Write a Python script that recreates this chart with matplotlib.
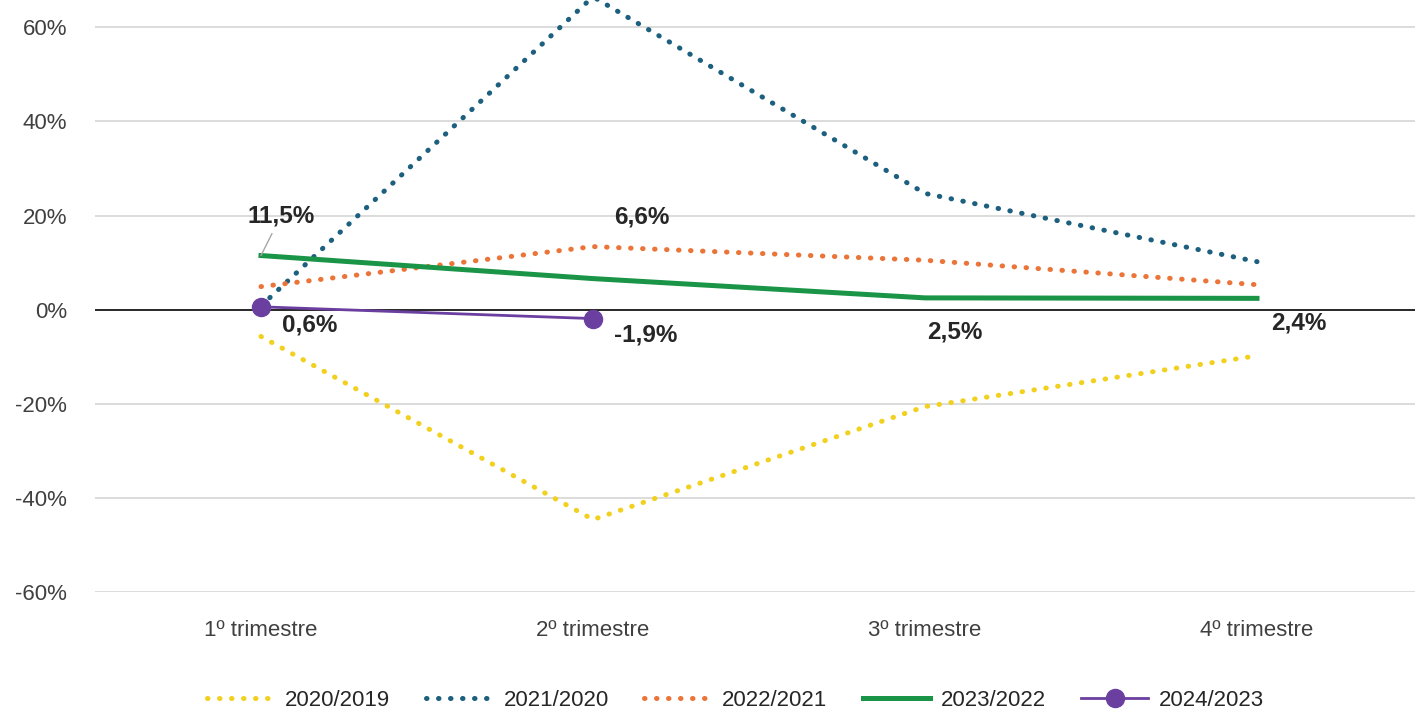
import numpy as np
import matplotlib
matplotlib.use("Agg")
import matplotlib.pyplot as plt

plt.rcParams['font.family'] = ['Liberation Sans', 'DejaVu Sans']

trimestres = ['1º trimestre', '2º trimestre', '3º trimestre', '4º trimestre']

# variação trimestral (%)
v2020_2019 = [-5.7, -44.6, -20.6, -9.8]
v2021_2020 = [0.8, 66.5, 24.7, 10.2]
v2022_2021 = [4.9, 13.4, 10.5, 5.3]
v2023_2022 = [11.5, 6.6, 2.5, 2.4]
v2024_2023 = [0.6, -1.9]

rotulos_2023 = ['11,5%', '6,6%', '2,5%', '2,4%']
rotulos_2024 = ['0,6%', '-1,9%']

x = np.arange(len(trimestres))

fig = plt.figure(figsize=(14.15, 7.14), dpi=100)
ax = fig.add_axes([95 / 1415, 1 - 592 / 714, 1328 / 1415, 592 / 714])

dots = (0, (0.1, 2.3))
ax.plot(x, v2020_2019, color='#F2D01E', lw=3.6, linestyle=dots,
        dash_capstyle='round', label='2020/2019', zorder=3)
ax.plot(x, v2021_2020, color='#1C5F7E', lw=3.6, linestyle=dots,
        dash_capstyle='round', label='2021/2020', zorder=3)
ax.plot(x, v2022_2021, color='#EB7539', lw=3.6, linestyle=dots,
        dash_capstyle='round', label='2022/2021', zorder=3)
ax.plot(x, v2023_2022, color='#1A9446', lw=3.6, label='2023/2022', zorder=4)
ax.plot(x[:len(v2024_2023)], v2024_2023, color='#6B3FA0', lw=2.0,
        marker='o', markersize=13, label='2024/2023', zorder=5)

ax.set_xlim(-0.5, 3.5)
ax.set_ylim(-60, 65.8)
ax.set_yticks(np.arange(-60, 61, 20))
ax.set_yticklabels(['%d%%' % v for v in np.arange(-60, 61, 20)])
ax.set_xticks(x)
ax.set_xticklabels(trimestres)
ax.tick_params(axis='y', length=0, pad=20, labelsize=16, labelcolor='#404040')
ax.tick_params(axis='x', length=0, pad=20, labelsize=16, labelcolor='#404040')
ax.grid(axis='y', color='#D9D9D9', lw=1.3, zorder=0)
ax.axhline(0, color='#1a1a1a', lw=1.3, zorder=2)
for s in ax.spines.values():
    s.set_visible(False)

lab_kw = dict(textcoords='offset pixels', ha='center', va='center',
              fontsize=17.5, fontweight='bold', color='#262626', zorder=6)
desloc_2023 = [(20, 40), (49, 62), (30, -34), (42, -25)]
for i, (txt, off) in enumerate(zip(rotulos_2023, desloc_2023)):
    if i == 0:
        ax.annotate(txt, (x[i], v2023_2022[i]), xytext=off,
                    arrowprops=dict(arrowstyle='-', color='#A6A6A6', lw=1,
                                    shrinkA=3, shrinkB=0), **lab_kw)
    else:
        ax.annotate(txt, (x[i], v2023_2022[i]), xytext=off, **lab_kw)

desloc_2024 = [(49, -18), (53, -16)]
for i, (txt, off) in enumerate(zip(rotulos_2024, desloc_2024)):
    ax.annotate(txt, (x[i], v2024_2023[i]), xytext=off, **lab_kw)

fig.legend(loc='lower center', bbox_to_anchor=(0.52, -0.024), ncol=5,
           frameon=False, fontsize=16, handlelength=3.0, columnspacing=1.6,
           handletextpad=0.5, labelcolor='#262626')

fig.savefig('out.png', dpi=100)
